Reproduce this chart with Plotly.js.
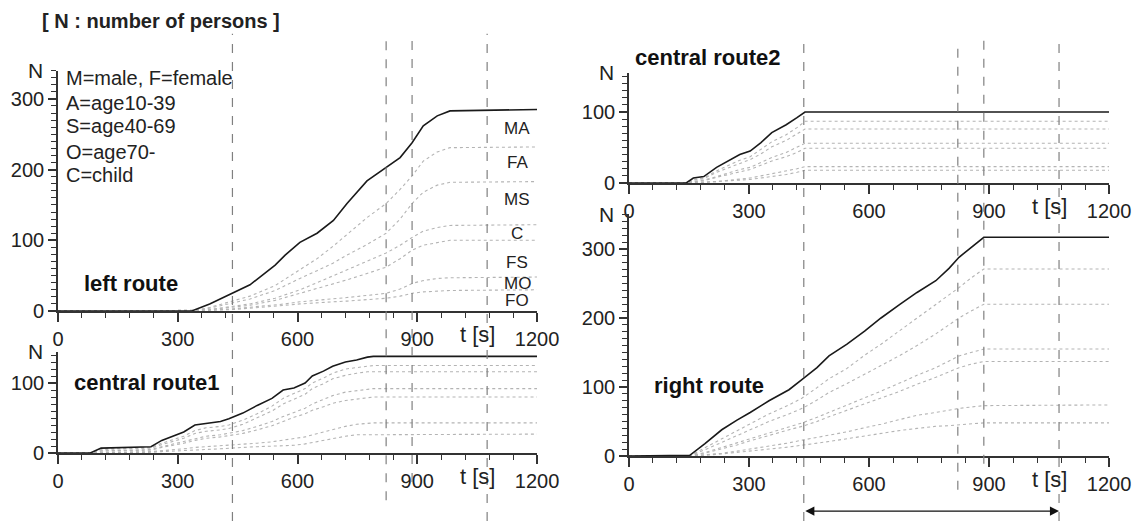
<!DOCTYPE html>
<html><head><meta charset="utf-8">
<script src="https://cdn.plot.ly/plotly-3.0.1.min.js"></script>
<style>html,body{margin:0;padding:0;background:#fff;} #chart{width:1139px;height:521px;}</style>
</head><body><div id="chart"></div>
<script>
// ---------- data ----------
// left route
var leftT     = [0, 335, 380, 437, 481, 544, 569, 606, 649, 690, 724, 774, 822, 857, 887, 915, 950, 982, 1200];
var leftTotal = [0, 0, 10, 25, 37, 65, 79, 97, 110, 128, 152, 184, 203, 217, 238, 262, 276, 283, 285];
var leftL1    = [0, 0, 5, 14, 21, 36, 45, 58, 74, 92, 108, 132, 152, 172, 191, 212, 225, 231, 232];
var leftL2    = [0, 0, 4, 11, 17, 29, 36, 46, 57, 68, 79, 94, 110, 130, 152, 168, 178, 182, 183];
var leftL3    = [0, 0, 2, 6, 10, 18, 23, 30, 40, 50, 58, 70, 82, 93, 104, 113, 118, 121, 122];
var leftL4    = [0, 0, 2, 5, 8, 15, 19, 25, 32, 38, 44, 53, 62, 74, 86, 93, 97, 100, 100];
var leftL5    = [0, 0, 1, 3, 5, 8, 10, 13, 15, 17, 19, 22, 25, 31, 39, 43, 46, 47, 48];
var leftL6    = [0, 0, 1, 2, 4, 6, 8, 10, 11, 13, 14, 16, 18, 21, 25, 27, 28, 29, 30];

// central route1
var c1T     = [0, 81, 108, 233, 260, 288, 315, 343, 371, 407, 428, 463, 499, 536, 564, 591, 619, 637, 665, 688, 720, 748, 775, 790, 1200];
var c1Total = [0, 0, 7, 9, 18, 24, 30, 40, 42, 45, 49, 57, 68, 78, 90, 93, 100, 110, 117, 124, 130, 133, 137, 138, 138];
var c1L1    = [0, 0, 6, 8, 14, 19, 24, 32, 36, 38, 40, 47, 56, 67, 78, 85, 92, 100, 107, 114, 120, 122, 124, 125, 125];
var c1L2    = [0, 0, 5, 7, 12, 17, 21, 28, 31, 33, 35, 41, 50, 60, 70, 77, 84, 92, 99, 106, 111, 114, 116, 116, 116];
var c1L3    = [0, 0, 3, 5, 9, 13, 16, 21, 24, 26, 28, 32, 38, 45, 52, 58, 64, 70, 76, 82, 87, 89, 91, 92, 92];
var c1L4    = [0, 0, 3, 4, 8, 11, 14, 18, 21, 23, 25, 28, 33, 39, 45, 51, 56, 61, 66, 71, 75, 77, 79, 80, 80];
var c1L5    = [0, 0, 1, 2, 3, 5, 6, 8, 9, 10, 11, 12, 14, 16, 18, 20, 23, 26, 30, 34, 38, 41, 42, 43, 43];
var c1L6    = [0, 0, 0, 1, 2, 3, 4, 5, 5, 6, 7, 8, 9, 10, 11, 11, 13, 15, 18, 21, 24, 26, 26, 27, 27];

// central route2
var c2T     = [0, 143, 161, 187, 219, 250, 277, 303, 330, 357, 393, 420, 440, 1200];
var c2Total = [0, 0, 7, 9, 22, 31, 40, 45, 57, 71, 82, 92, 100, 100];
var c2L1    = [0, 0, 5, 7, 17, 25, 32, 37, 47, 58, 68, 78, 87, 87];
var c2L2    = [0, 0, 4, 6, 15, 22, 28, 33, 41, 51, 60, 69, 76, 76];
var c2L3    = [0, 0, 2, 4, 9, 14, 19, 22, 29, 36, 43, 50, 56, 56];
var c2L4    = [0, 0, 2, 3, 8, 12, 16, 19, 25, 31, 37, 43, 49, 49];
var c2L5    = [0, 0, 0, 1, 2, 4, 6, 7, 10, 13, 16, 20, 23, 23];
var c2L6    = [0, 0, 0, 1, 2, 3, 4, 5, 7, 9, 12, 15, 18, 18];

// right route
var rT     = [0, 134, 152, 190, 232, 270, 303, 350, 400, 433, 470, 500, 545, 589, 630, 678, 720, 767, 800, 825, 855, 887, 1200];
var rTotal = [0, 0, 1, 18, 38, 52, 63, 80, 96, 111, 128, 145, 162, 181, 200, 220, 237, 254, 272, 288, 302, 317, 317];
var rL1    = [0, 0, 0, 12, 25, 37, 47, 61, 74, 84, 99, 112, 127, 146, 162, 182, 199, 219, 233, 244, 258, 271, 271];
var rL2    = [0, 0, 0, 9, 20, 30, 38, 50, 61, 69, 81, 92, 105, 119, 131, 146, 160, 177, 190, 200, 210, 220, 220];
var rL3    = [0, 0, 0, 5, 12, 19, 25, 33, 42, 48, 56, 63, 74, 84, 94, 106, 117, 128, 138, 145, 150, 155, 155];
var rL4    = [0, 0, 0, 4, 10, 16, 22, 30, 38, 43, 50, 57, 66, 75, 84, 94, 104, 114, 122, 128, 133, 137, 137];
var rL5    = [0, 0, 0, 2, 4, 7, 10, 14, 19, 23, 27, 30, 35, 41, 46, 53, 59, 63, 67, 69, 71, 73, 74];
var rL6    = [0, 0, 0, 1, 3, 5, 7, 10, 13, 16, 19, 21, 25, 29, 33, 37, 40, 43, 44, 45, 47, 48, 48];

// labels
var catLabels = ['MA', 'FA', 'MS', 'C', 'FS', 'MO', 'FO'];
var catY      = [258, 210, 158, 110, 68, 39, 15];
var keyLines  = ['M=male, F=female', 'A=age10-39', 'S=age40-69', 'O=age70-', 'C=child'];
var keyY      = [330, 294, 261, 225, 193];
var markTimes = [437, 822, 887, 1075];

// ---------- build ----------
var FONT = 'Liberation Sans, Arial, Helvetica, sans-serif';
var INK = '#222';
var traces = [];
function addRoute(t, total, lines, xa, ya) {
  lines.forEach(function (v) {
    traces.push({x: t, y: v, xaxis: xa, yaxis: ya, mode: 'lines', hoverinfo: 'skip',
      line: {color: '#b4b4b4', width: 1.1, dash: 'dot'}});
  });
  traces.push({x: t, y: total, xaxis: xa, yaxis: ya, mode: 'lines', hoverinfo: 'skip',
    line: {color: '#1a1a1a', width: 1.6}});
}
addRoute(leftT, leftTotal, [leftL1, leftL2, leftL3, leftL4, leftL5, leftL6], 'x', 'y');
addRoute(c2T, c2Total, [c2L1, c2L2, c2L3, c2L4, c2L5, c2L6], 'x2', 'y2');
addRoute(c1T, c1Total, [c1L1, c1L2, c1L3, c1L4, c1L5, c1L6], 'x3', 'y3');
addRoute(rT, rTotal, [rL1, rL2, rL3, rL4, rL5, rL6], 'x4', 'y4');

function xAx(domain, anchor) {
  return {domain: domain, anchor: anchor, range: [0, 1200], tickmode: 'linear', tick0: 0, dtick: 300,
    ticks: 'outside', ticklen: 9, tickwidth: 1.5, tickcolor: '#333',
    minor: {dtick: 60, ticks: 'outside', ticklen: 5, tickwidth: 1.3, tickcolor: '#333'},
    showline: true, linecolor: '#333', linewidth: 1.5, showgrid: false, zeroline: false,
    tickfont: {family: FONT, size: 20, color: INK}};
}
function yAx(domain, anchor, top) {
  return {domain: domain, anchor: anchor, range: [0, top], tickmode: 'linear', tick0: 0, dtick: 100,
    ticks: 'outside', ticklen: 8, tickwidth: 1.5, tickcolor: '#333',
    minor: {dtick: 10, ticks: 'outside', ticklen: 5, tickwidth: 1.3, tickcolor: '#333'},
    showline: true, linecolor: '#333', linewidth: 1.5, showgrid: false, zeroline: false,
    tickfont: {family: FONT, size: 20, color: INK}};
}

var LX = [0.0509, 0.4715], RX = [0.5522, 0.9737];
var layout = {
  width: 1139, height: 521, margin: {l: 0, r: 0, t: 0, b: 0},
  paper_bgcolor: '#fff', plot_bgcolor: '#fff', showlegend: false, hovermode: false,
  xaxis: xAx(LX, 'y'),  yaxis: yAx([0.4031, 0.8645], 'x', 340),
  xaxis2: xAx(RX, 'y2'), yaxis2: yAx([0.6488, 0.8599], 'x2', 155),
  xaxis3: xAx(LX, 'y3'), yaxis3: yAx([0.1305, 0.3253], 'x3', 145),
  xaxis4: xAx(RX, 'y4'), yaxis4: yAx([0.1248, 0.5883], 'x4', 350),
  shapes: [], annotations: []
};

// dashed marker lines
var leftBottoms = [0, 0.04, 0.075, 0];
var rightBottoms = [0, 0.06, 0.11, 0];
markTimes.forEach(function (t, i) {
  layout.shapes.push({type: 'line', xref: 'x', yref: 'paper', x0: t, x1: t, y0: leftBottoms[i], y1: 0.935,
    line: {color: '#808080', width: 1.2, dash: 'dash'}});
  layout.shapes.push({type: 'line', xref: 'x2', yref: 'paper', x0: t, x1: t, y0: rightBottoms[i], y1: 0.922,
    line: {color: '#808080', width: 1.2, dash: 'dash'}});
});

var A = layout.annotations;
// double arrow under right panel
A.push({xref: 'x4', yref: 'paper', x: markTimes[3], y: 0.019, axref: 'x4', ayref: 'pixel', ax: markTimes[0], ay: 0,
  text: '', showarrow: true, arrowside: 'end+start', arrowhead: 2, arrowsize: 1.3, arrowwidth: 1.4, arrowcolor: '#111',
  standoff: 0, startstandoff: 0});

// main heading
A.push({xref: 'paper', yref: 'paper', x: 0.035, y: 0.96, xanchor: 'left', yanchor: 'middle', showarrow: false,
  text: '<b>[ N : number of persons ]</b>', font: {family: FONT, size: 20, color: INK}});

// panel titles
[['left route', 0.072, 0.455], ['central route1', 0.063, 0.265], ['central route2', 0.556, 0.889], ['right route', 0.572, 0.261]]
.forEach(function (p) {
  A.push({xref: 'paper', yref: 'paper', x: p[1], y: p[2], xanchor: 'left', yanchor: 'middle', showarrow: false,
    text: '<b>' + p[0] + '</b>', font: {family: FONT, size: 22, color: '#111'}});
});

// key text
keyLines.forEach(function (s, i) {
  A.push({xref: 'x', yref: 'y', x: 15, y: keyY[i], xanchor: 'left', yanchor: 'middle', showarrow: false,
    text: s, font: {family: FONT, size: 20, color: INK}});
});
// category labels
catLabels.forEach(function (s, i) {
  A.push({xref: 'x', yref: 'y', x: 1150, y: catY[i], xanchor: 'center', yanchor: 'middle', showarrow: false,
    text: s, font: {family: FONT, size: 17, color: INK}});
});

// axis labels N and t [s]
[['x', 'y'], ['x2', 'y2'], ['x3', 'y3'], ['x4', 'y4']].forEach(function (p) {
  A.push({xref: p[0] + ' domain', yref: p[1] + ' domain', x: 0, y: 1, xanchor: 'right', yanchor: 'middle',
    xshift: -13, showarrow: false, text: 'N', font: {family: FONT, size: 21, color: INK}});
  A.push({xref: p[0], yref: p[1] + ' domain', x: 1050, y: 0, xanchor: 'center', yanchor: 'top',
    yshift: -9, showarrow: false, text: 't [s]', font: {family: FONT, size: 22, color: INK}});
});

Plotly.newPlot('chart', traces, layout, {displayModeBar: false});
</script></body></html>
